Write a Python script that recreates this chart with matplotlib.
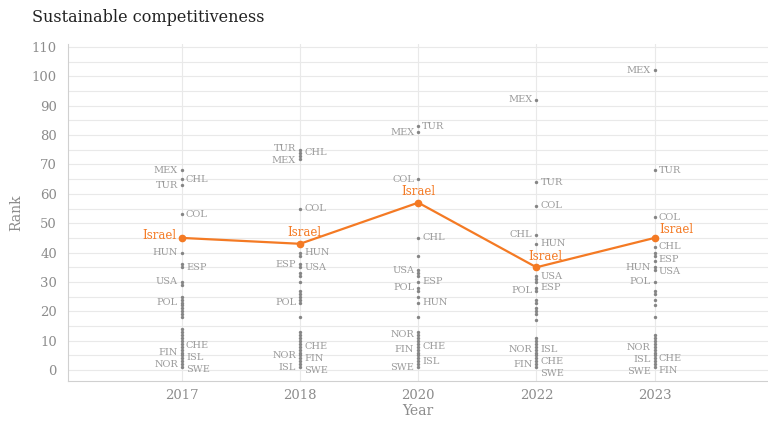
import matplotlib.pyplot as plt

years = ['2017', '2018', '2020', '2022', '2023']
israel = [45, 43, 57, 35, 45]

# ranks of labelled countries
ranks_2017 = {'MEX': 68, 'CHL': 65, 'TUR': 63, 'COL': 53, 'HUN': 40, 'ESP': 35, 'USA': 30,
              'POL': 23, 'CHE': 8, 'FIN': 6, 'ISL': 4, 'NOR': 2, 'SWE': 1}
ranks_2018 = {'TUR': 75, 'CHL': 74, 'MEX': 72, 'COL': 55, 'HUN': 40, 'ESP': 36, 'USA': 35,
              'POL': 23, 'CHE': 8, 'NOR': 4, 'FIN': 3, 'ISL': 2, 'SWE': 1}
ranks_2020 = {'TUR': 83, 'MEX': 81, 'COL': 65, 'CHL': 45, 'USA': 34, 'ESP': 30, 'POL': 28,
              'HUN': 23, 'NOR': 12, 'CHE': 8, 'FIN': 7, 'ISL': 3, 'SWE': 1}
ranks_2022 = {'MEX': 92, 'TUR': 64, 'COL': 56, 'CHL': 46, 'HUN': 43, 'USA': 32, 'ESP': 28,
              'POL': 27, 'NOR': 7, 'ISL': 5, 'CHE': 3, 'FIN': 2, 'SWE': 1}
ranks_2023 = {'MEX': 102, 'TUR': 68, 'COL': 52, 'CHL': 42, 'ESP': 37, 'HUN': 35, 'USA': 34,
              'POL': 30, 'NOR': 5, 'ISL': 4, 'CHE': 3, 'SWE': 2, 'FIN': 1}

# ranks of the other (unlabelled) countries
others_2017 = [36, 29, 25, 24, 22, 21, 20, 19, 18, 14, 13, 12, 11, 10, 9, 7, 5, 3]
others_2018 = [73, 39, 33, 32, 30, 27, 26, 25, 24, 18, 13, 12, 11, 10, 9, 7, 6, 5]
others_2020 = [39, 33, 32, 27, 25, 18, 13, 11, 10, 9, 6, 5, 4, 2]
others_2022 = [31, 30, 24, 23, 21, 20, 19, 17, 11, 10, 9, 8, 6, 4]
others_2023 = [40, 39, 27, 26, 24, 22, 18, 12, 11, 10, 9, 8, 7, 6]

# which side of the dot column each label sits on
left_2017 = ['MEX', 'TUR', 'HUN', 'USA', 'POL', 'FIN', 'NOR']
left_2018 = ['TUR', 'MEX', 'ESP', 'POL', 'NOR', 'ISL']
left_2020 = ['MEX', 'COL', 'USA', 'POL', 'NOR', 'FIN', 'SWE']
left_2022 = ['MEX', 'CHL', 'POL', 'NOR', 'FIN']
left_2023 = ['MEX', 'HUN', 'POL', 'NOR', 'ISL', 'SWE']

all_ranks = [ranks_2017, ranks_2018, ranks_2020, ranks_2022, ranks_2023]
all_others = [others_2017, others_2018, others_2020, others_2022, others_2023]
all_left = [left_2017, left_2018, left_2020, left_2022, left_2023]

ORANGE = '#f47a24'
GREY_DOT = '#858585'
GREY_TXT = '#9a9a9a'
GRID = '#e9e9e9'

plt.rcParams['font.family'] = 'DejaVu Serif'


def repel(items, gap=4.0):
    # items: list of [name, y]; spread so neighbours are at least gap apart
    items = sorted(items, key=lambda t: -t[1])
    for _ in range(200):
        moved = False
        for i in range(len(items) - 1):
            d = items[i][1] - items[i + 1][1]
            if d < gap - 1e-6:
                push = (gap - d) / 2
                items[i][1] += push
                items[i + 1][1] -= push
                moved = True
        if not moved:
            break
    return items


fig = plt.figure(figsize=(7.68, 4.21), dpi=100)
ax = fig.add_axes([68 / 768, 40 / 421, 700 / 768, 337 / 421])

x = list(range(len(years)))

for i, yr in enumerate(years):
    ranks = all_ranks[i]
    vals = list(ranks.values()) + all_others[i]
    ax.scatter([i] * len(vals), vals, s=6, color=GREY_DOT, zorder=3, linewidths=0)

    for side in ('L', 'R'):
        names = [n for n in ranks if (n in all_left[i]) == (side == 'L')]
        placed = repel([[n, ranks[n]] for n in names])
        for n, ty in placed:
            ax.annotate(n, (i, ty), xytext=(-4 if side == 'L' else 4, 0),
                        textcoords='offset pixels', ha='right' if side == 'L' else 'left',
                        va='center', fontsize=7, color=GREY_TXT, zorder=4)

ax.plot(x, israel, color=ORANGE, lw=1.6, marker='o', markersize=4.5, zorder=5)

israel_offsets = [(-5, 2, 'right'), (4, 11, 'center'), (0, 11, 'center'),
                  (9, 11, 'center'), (5, 8, 'left')]
for i, v in enumerate(israel):
    dx, dy, ha = israel_offsets[i]
    ax.annotate('Israel', (i, v), xytext=(dx, dy), textcoords='offset pixels',
                ha=ha, va='center', fontsize=8.5, color=ORANGE, zorder=6)

ax.set_xlim(-0.964, 4.96)
ax.set_ylim(-3.7, 111)
ax.set_xticks(x)
ax.set_xticklabels(years)
ax.set_yticks(range(0, 111, 10))
ax.set_yticks(range(5, 111, 10), minor=True)
ax.grid(True, which='both', axis='y', color=GRID, lw=0.8)
ax.grid(True, which='major', axis='x', color=GRID, lw=0.8)
ax.set_axisbelow(True)

for s in ['top', 'right']:
    ax.spines[s].set_visible(False)
for s in ['left', 'bottom']:
    ax.spines[s].set_color('#d0d0d0')
    ax.spines[s].set_linewidth(0.8)

ax.tick_params(axis='both', which='both', length=0, colors='#8c8c8c', labelsize=9.5)
ax.tick_params(axis='x', pad=6)
ax.tick_params(axis='y', pad=8)

ax.set_xlabel('Year', color='#8c8c8c', fontsize=10, labelpad=1)
ax.set_ylabel('Rank', color='#8c8c8c', fontsize=10, labelpad=6)

fig.text(32 / 768, 1 - 17 / 421, 'Sustainable competitiveness', fontsize=11.5,
         color='#222222', va='center', ha='left')

fig.savefig('out.png', dpi=100)
